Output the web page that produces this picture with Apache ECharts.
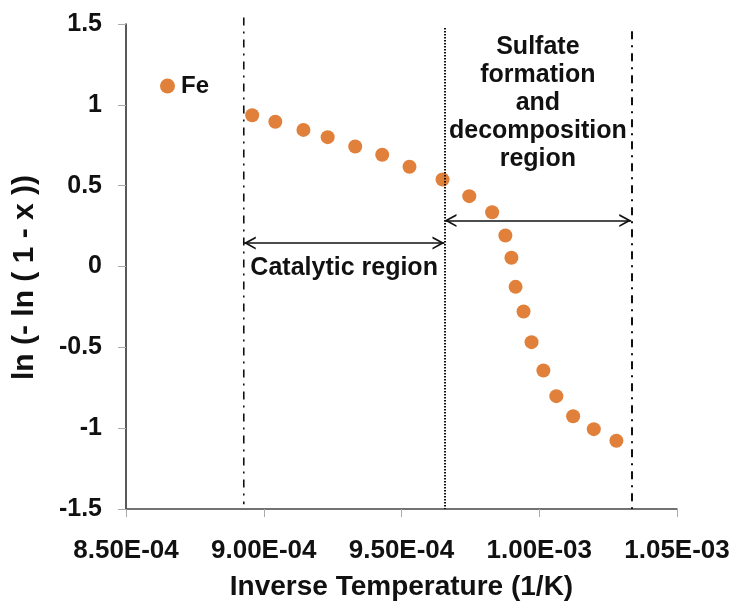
<!DOCTYPE html>
<html>
<head>
<meta charset="utf-8">
<script src="https://cdn.jsdelivr.net/npm/echarts@6/dist/echarts.min.js"></script>
<style>
  html, body { margin: 0; padding: 0; background: #fff; }
  #chart { width: 734px; height: 602px; }
</style>
</head>
<body>
<div id="chart"></div>
<script>
// Inverse temperature (1/K) and ln(-ln(1 - x)) for the Fe sample
const inverseTemp = [
  8.958e-4, 9.042e-4, 9.144e-4, 9.232e-4, 9.332e-4, 9.430e-4, 9.529e-4,
  9.649e-4, 9.746e-4, 9.829e-4, 9.877e-4, 9.899e-4, 9.914e-4, 9.943e-4,
  9.972e-4, 1.0015e-3, 1.0062e-3, 1.0123e-3, 1.0198e-3, 1.0280e-3
];
const lnLnFe = [
  0.936, 0.895, 0.845, 0.800, 0.742, 0.691, 0.617,
  0.538, 0.435, 0.336, 0.192, 0.054, -0.126, -0.278,
  -0.468, -0.643, -0.802, -0.926, -1.006, -1.078
];

// Axis tick labels
const xTickLabels = ['8.50E-04', '9.00E-04', '9.50E-04', '1.00E-03', '1.05E-03'];
const yTickLabels = ['-1.5', '-1', '-0.5', '0', '0.5', '1', '1.5'];

// Region boundaries (1/K) and the spans of the region arrows
const catalyticStart = 8.9275e-4;
const regionBoundary = 9.656e-4;
const sulfateEnd = 1.0334e-3;
const catalyticArrowY = 0.145;
const sulfateArrowY = 0.284;
const catalyticLineTop = 1.54;
const catalyticLineBottom = -1.47;

const FONT = '"Liberation Sans", Arial, Helvetica, sans-serif';
const chevron = 'path://M0,10 L5,0 L10,10 L8.6,10 L5,3.0 L1.4,10 Z';

const chart = echarts.init(document.getElementById('chart'), null, { renderer: 'canvas' });

const scatterData = inverseTemp.map((x, i) => [x, lnLnFe[i]]);

function vLine(x, y0, y1, dash, width) {
  return [
    { coord: [x, y0], lineStyle: { type: dash, width: width, color: '#111' } },
    { coord: [x, y1] }
  ];
}
function hArrow(x0, x1, y) {
  return [
    { coord: [x0, y], symbol: chevron, lineStyle: { type: 'solid', width: 1.6, color: '#111' } },
    { coord: [x1, y], symbol: chevron }
  ];
}

chart.setOption({
  animation: false,
  backgroundColor: '#fff',
  grid: { left: 126, right: 57, top: 24, bottom: 93, containLabel: false, outerBoundsMode: 'none' },
  legend: {
    data: ['Fe'],
    left: 160,
    top: 74,
    padding: 0,
    icon: 'circle',
    itemWidth: 15,
    itemHeight: 15,
    textStyle: { fontFamily: FONT, fontWeight: 'bold', fontSize: 24, color: '#111', padding: [0, 0, 0, 1] }
  },
  xAxis: {
    type: 'value',
    min: 8.5e-4,
    max: 1.05e-3,
    interval: 5e-5,
    name: 'Inverse Temperature (1/K)',
    nameLocation: 'middle',
    nameGap: 64,
    nameTextStyle: { fontFamily: FONT, fontWeight: 'bold', fontSize: 28, color: '#111' },
    axisLine: { onZero: false, lineStyle: { color: '#444', width: 1.5 } },
    axisTick: { show: true, inside: false, length: 8, lineStyle: { color: '#aaa', width: 1 } },
    axisLabel: {
      margin: 29,
      fontFamily: FONT, fontWeight: 'bold', fontSize: 26, color: '#111',
      formatter: (v, i) => xTickLabels[i]
    },
    splitLine: { show: false }
  },
  yAxis: {
    type: 'value',
    min: -1.5,
    max: 1.5,
    interval: 0.5,
    name: 'ln (- ln ( 1 - x ))',
    nameLocation: 'middle',
    nameGap: 86,
    nameRotate: 90,
    nameTextStyle: { fontFamily: FONT, fontWeight: 'bold', fontSize: 30, color: '#111', padding: [0, 22, 0, 0] },
    axisLine: { show: true, onZero: false, lineStyle: { color: '#222', width: 1.5 } },
    axisTick: { show: true, inside: false, length: 8, lineStyle: { color: '#aaa', width: 1 } },
    axisLabel: {
      margin: 24,
      fontFamily: FONT, fontWeight: 'bold', fontSize: 25, color: '#111',
      formatter: (v, i) => yTickLabels[i]
    },
    splitLine: { show: false }
  },
  series: [{
    name: 'Fe',
    type: 'scatter',
    clip: false,
    symbol: 'circle',
    symbolSize: 14,
    itemStyle: { color: '#E0803A', opacity: 1 },
    data: scatterData,
    markLine: {
      silent: true,
      animation: false,
      symbol: 'none',
      symbolSize: [13, 12],
      symbolOffset: [[0, 6], [0, 6]],
      label: { show: false },
      emphasis: { disabled: true },
      data: [
        vLine(regionBoundary, 1.475, -1.5, [1.5, 1.5], 2),
        vLine(sulfateEnd, 1.455, -1.5, [8, 6, 2, 6], 2),
        hArrow(catalyticStart, regionBoundary, catalyticArrowY),
        hArrow(regionBoundary, sulfateEnd, sulfateArrowY)
      ]
    }
  }]
});

// The catalytic-region boundary rises a little above the plot top, so it is
// drawn from its data coordinates as a graphic line.
const lineTop = chart.convertToPixel({ gridIndex: 0 }, [catalyticStart, catalyticLineTop]);
const lineBottom = chart.convertToPixel({ gridIndex: 0 }, [catalyticStart, catalyticLineBottom]);

// Region captions placed in data space
const catalyticPos = chart.convertToPixel({ gridIndex: 0 }, [(catalyticStart + regionBoundary) / 2, catalyticArrowY]);
const sulfatePos = chart.convertToPixel({ gridIndex: 0 }, [(regionBoundary + sulfateEnd) / 2, 1.03]);

chart.setOption({
  graphic: [
    {
      type: 'line',
      shape: { x1: lineTop[0], y1: lineTop[1], x2: lineBottom[0], y2: lineBottom[1] },
      style: { stroke: '#111', lineWidth: 1.6, lineDash: [8, 6, 2, 6] },
      silent: true
    },
    {
      type: 'text',
      x: catalyticPos[0],
      y: catalyticPos[1] + 25,
      style: {
        text: 'Catalytic region',
        fontFamily: FONT, fontWeight: 'bold', fontSize: 25, fill: '#111',
        align: 'center', verticalAlign: 'middle'
      }
    },
    {
      type: 'text',
      x: sulfatePos[0],
      y: sulfatePos[1] + 3,
      style: {
        text: 'Sulfate\nformation\nand\ndecomposition\nregion',
        fontFamily: FONT, fontWeight: 'bold', fontSize: 25, lineHeight: 28, fill: '#111',
        align: 'center', verticalAlign: 'middle'
      }
    }
  ]
});
</script>
</body>
</html>
